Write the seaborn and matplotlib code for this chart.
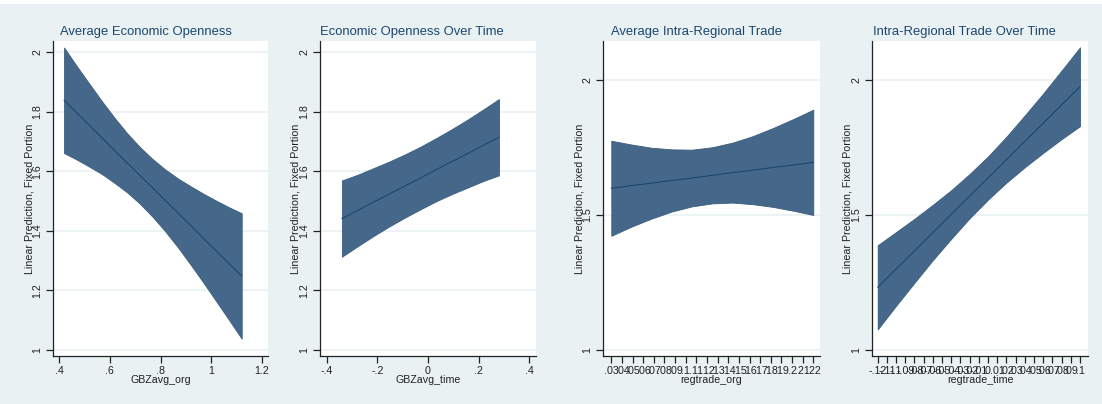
import numpy as np
import pandas as pd
import matplotlib
matplotlib.use("Agg")
import matplotlib.pyplot as plt
import seaborn as sns

# ---- predicted values with 95% confidence bands -------------------------
gbz_org_x = [0.42, 0.47, 0.52, 0.57, 0.62, 0.67, 0.72, 0.77, 0.82, 0.87, 0.92, 0.97, 1.02, 1.07, 1.12]
gbz_org_fit = [1.838, 1.796, 1.754, 1.712, 1.669, 1.627, 1.585, 1.543, 1.501, 1.459, 1.417, 1.374, 1.332, 1.290, 1.248]
gbz_org_lo = [1.661, 1.639, 1.615, 1.590, 1.560, 1.528, 1.490, 1.446, 1.397, 1.343, 1.285, 1.225, 1.163, 1.101, 1.038]
gbz_org_hi = [2.015, 1.953, 1.893, 1.834, 1.778, 1.726, 1.680, 1.640, 1.605, 1.575, 1.549, 1.524, 1.501, 1.479, 1.459]

gbz_time_x = [-0.34, -0.278, -0.216, -0.154, -0.092, -0.03, 0.032, 0.094, 0.156, 0.218, 0.28]
gbz_time_fit = [1.441, 1.468, 1.496, 1.523, 1.550, 1.577, 1.605, 1.632, 1.659, 1.687, 1.714]
gbz_time_lo = [1.313, 1.348, 1.382, 1.414, 1.444, 1.472, 1.499, 1.523, 1.545, 1.567, 1.586]
gbz_time_hi = [1.569, 1.588, 1.610, 1.632, 1.656, 1.682, 1.711, 1.741, 1.773, 1.807, 1.842]

reg_org_x = [0.03, 0.049, 0.068, 0.087, 0.106, 0.125, 0.144, 0.163, 0.182, 0.201, 0.22]
reg_org_fit = [1.599, 1.609, 1.618, 1.628, 1.637, 1.647, 1.657, 1.666, 1.676, 1.685, 1.695]
reg_org_lo = [1.423, 1.457, 1.487, 1.513, 1.532, 1.543, 1.546, 1.540, 1.530, 1.516, 1.500]
reg_org_hi = [1.775, 1.761, 1.749, 1.743, 1.742, 1.751, 1.768, 1.792, 1.822, 1.855, 1.890]

reg_time_x = [-0.12, -0.10, -0.08, -0.06, -0.04, -0.02, 0.0, 0.02, 0.04, 0.06, 0.08, 0.10]
reg_time_fit = [1.232, 1.300, 1.367, 1.435, 1.502, 1.570, 1.637, 1.705, 1.773, 1.840, 1.908, 1.975]
reg_time_lo = [1.076, 1.164, 1.249, 1.333, 1.412, 1.488, 1.557, 1.620, 1.677, 1.730, 1.781, 1.829]
reg_time_hi = [1.388, 1.437, 1.486, 1.538, 1.592, 1.652, 1.717, 1.790, 1.869, 1.950, 2.035, 2.121]

# ---- axis ticks and labels ---------------------------------------------
gbz_org_ticks = [0.4, 0.6, 0.8, 1.0, 1.2]
gbz_org_labels = [".4", ".6", ".8", "1", "1.2"]
gbz_time_ticks = [-0.4, -0.2, 0.0, 0.2, 0.4]
gbz_time_labels = ["-.4", "-.2", "0", ".2", ".4"]
reg_org_ticks = [0.03, 0.04, 0.05, 0.06, 0.07, 0.08, 0.09, 0.10, 0.11, 0.12,
                 0.13, 0.14, 0.15, 0.16, 0.17, 0.18, 0.19, 0.20, 0.21, 0.22]
reg_org_labels = [".03", ".04", ".05", ".06", ".07", ".08", ".09", ".1", ".11", ".12",
                  ".13", ".14", ".15", ".16", ".17", ".18", ".19", ".2", ".21", ".22"]
reg_time_ticks = [-0.12, -0.11, -0.10, -0.09, -0.08, -0.07, -0.06, -0.05, -0.04, -0.03, -0.02, -0.01,
                  0.0, 0.01, 0.02, 0.03, 0.04, 0.05, 0.06, 0.07, 0.08, 0.09, 0.10]
reg_time_labels = ["-.12", "-.11", "-.1", "-.09", "-.08", "-.07", "-.06", "-.05", "-.04", "-.03", "-.02", "-.01",
                   "0", ".01", ".02", ".03", ".04", ".05", ".06", ".07", ".08", ".09", ".1"]
gbz_y_ticks = [1.0, 1.2, 1.4, 1.6, 1.8, 2.0]
gbz_y_labels = ["1", "1.2", "1.4", "1.6", "1.8", "2"]
reg_y_ticks = [1.0, 1.5, 2.0]
reg_y_labels = ["1", "1.5", "2"]

titles = ["Average Economic Openness", "Economic Openness Over Time",
          "Average Intra-Regional Trade", "Intra-Regional Trade Over Time"]
x_titles = ["GBZavg_org", "GBZavg_time", "regtrade_org", "regtrade_time"]
y_title = "Linear Prediction, Fixed Portion"

# ---- styling -----------------------------------------------------------
sns.set_theme(style="white")
plt.rcParams["font.family"] = ["Liberation Sans", "DejaVu Sans"]

BG = "#eaf1f3"
NAVY = "#1a476f"
BAND = "#45688a"
INK = "#222222"

W, H = 1102, 404
fig = plt.figure(figsize=(W / 100, H / 100), dpi=100, facecolor=BG)

# white strip along the top edge
fig.add_artist(plt.Rectangle((0, 1 - 4 / H), 1, 4 / H, transform=fig.transFigure,
                             facecolor="white", edgecolor="none", zorder=0))

panels = [
    dict(x=gbz_org_x, fit=gbz_org_fit, lo=gbz_org_lo, hi=gbz_org_hi,
         xt=gbz_org_ticks, xl=gbz_org_labels, yt=gbz_y_ticks, yl=gbz_y_labels,
         xlim=(0.3764, 1.2236), ylim=(0.9799, 2.0369), box=(53, 268), tx=145.5, yx=29),
    dict(x=gbz_time_x, fit=gbz_time_fit, lo=gbz_time_lo, hi=gbz_time_hi,
         xt=gbz_time_ticks, xl=gbz_time_labels, yt=gbz_y_ticks, yl=gbz_y_labels,
         xlim=(-0.4264, 0.4264), ylim=(0.9799, 2.0369), box=(320, 536), tx=412, yx=296),
    dict(x=reg_org_x, fit=reg_org_fit, lo=reg_org_lo, hi=reg_org_hi,
         xt=reg_org_ticks, xl=reg_org_labels, yt=reg_y_ticks, yl=reg_y_labels,
         xlim=(0.0222, 0.2263), ylim=(0.9778, 2.1444), box=(603, 820), tx=696.7, yx=580),
    dict(x=reg_time_x, fit=reg_time_fit, lo=reg_time_lo, hi=reg_time_hi,
         xt=reg_time_ticks, xl=reg_time_labels, yt=reg_y_ticks, yl=reg_y_labels,
         xlim=(-0.1262, 0.1087), ylim=(0.9778, 2.1444), box=(872, 1088), tx=964.5, yx=847),
]

TOP, BOTTOM = 41, 356
TICK_FS = 7.7

for i, p in enumerate(panels):
    x0, x1 = p["box"]
    ax = fig.add_axes([x0 / W, 1 - BOTTOM / H, (x1 - x0) / W, (BOTTOM - TOP) / H])
    ax.set_facecolor("white")

    df = pd.DataFrame({"x": p["x"], "fit": p["fit"], "lo": p["lo"], "hi": p["hi"]})
    ax.fill_between(df["x"], df["lo"], df["hi"], facecolor=BAND, edgecolor="#3b5d7f",
                    linewidth=0.6, zorder=2)
    sns.lineplot(data=df, x="x", y="fit", ax=ax, color=NAVY, linewidth=0.8, zorder=3)

    ax.set_xlim(*p["xlim"])
    ax.set_ylim(*p["ylim"])
    ax.set_xticks(p["xt"])
    ax.set_xticklabels(p["xl"])
    ax.set_yticks(p["yt"])
    ax.set_yticklabels(p["yl"], rotation=90, va="center")
    ax.set_xlabel("")
    ax.set_ylabel("")

    ax.grid(axis="y", color="#edf2f4", linewidth=1.4, zorder=1)
    ax.grid(axis="x", visible=False)
    ax.set_axisbelow(True)
    for side in ("top", "right"):
        ax.spines[side].set_visible(False)
    for side in ("left", "bottom"):
        ax.spines[side].set_color(INK)
        ax.spines[side].set_linewidth(0.9)
    ax.tick_params(axis="both", which="major", length=5, width=0.9, color=INK,
                   labelsize=TICK_FS, labelcolor=INK, pad=2.5, direction="out",
                   bottom=True, left=True)

    # panel title, x and y axis titles
    fig.text(p["tx"] / W, 1 - 32 / H, titles[i], ha="center", va="center",
             fontsize=9.4, color=NAVY)
    fig.text((x0 + x1) / 2 / W, 1 - 380 / H, x_titles[i], ha="center", va="center",
             fontsize=TICK_FS, color=INK)
    fig.text(p["yx"] / W, 1 - (TOP + BOTTOM) / 2 / H, y_title, ha="center", va="center",
             rotation=90, fontsize=TICK_FS, color=INK)

fig.savefig("out.png", dpi=100, facecolor=BG)
